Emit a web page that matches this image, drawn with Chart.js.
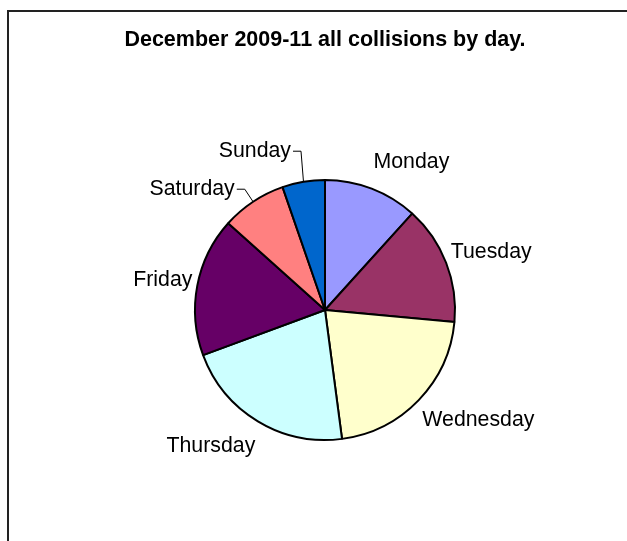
<!DOCTYPE html>
<html>
<head>
<meta charset="utf-8">
<script src="https://cdn.jsdelivr.net/npm/chart.js@4.4.1/dist/chart.umd.min.js"></script>
<style>
  body { margin: 0; background: #fff; overflow: hidden; }
  #wrap { position: relative; width: 627px; height: 541px; }
  #frame { position: absolute; left: 7px; top: 10px; width: 700px; height: 700px;
           border: 2px solid #222; box-sizing: border-box; pointer-events: none; }
  canvas { position: absolute; left: 0; top: 0; }
</style>
</head>
<body>
<div id="wrap">
  <canvas id="pieChart" width="627" height="541"></canvas>
  <div id="frame"></div>
</div>
<script>
// data (slice sizes)
const days = ['Monday', 'Tuesday', 'Wednesday', 'Thursday', 'Friday', 'Saturday', 'Sunday'];
const collisions = [42, 53, 77, 77, 62, 29, 19];
const sliceColors = ['#9999FF', '#993366', '#FFFFCC', '#CCFFFF', '#660066', '#FF8080', '#0066CC'];
const chartTitle = 'December 2009-11 all collisions by day.';

const FONT = '"Liberation Sans", Arial, Helvetica, sans-serif';

// title + outside labels (Excel style, leader lines on the small slices)
const pieLabels = {
  id: 'pieLabels',
  afterDraw(chart) {
    const ctx = chart.ctx;
    const meta = chart.getDatasetMeta(0);
    const total = collisions.reduce((a, b) => a + b, 0);
    ctx.save();
    ctx.fillStyle = '#000';
    ctx.strokeStyle = '#000';
    ctx.lineWidth = 1;

    const c = meta.data[0].getProps(['x', 'y'], true);
    ctx.font = 'bold 21.5px ' + FONT;
    ctx.textAlign = 'center';
    ctx.textBaseline = 'middle';
    ctx.fillText(chartTitle, c.x, 40);

    ctx.font = '21.3px ' + FONT;
    const placed = [];
    meta.data.forEach((arc, i) => {
      const p = arc.getProps(['x', 'y', 'startAngle', 'endAngle', 'outerRadius'], true);
      const mid = (p.startAngle + p.endAngle) / 2;
      const cos = Math.cos(mid), sin = Math.sin(mid);
      const R = p.outerRadius;
      const right = cos >= 0;
      ctx.textAlign = right ? 'left' : 'right';
      if (collisions[i] / total < 0.1) {
        // small slice: elbow leader, pushed clear of the previous small label
        const ex = p.x + (R + 15) * cos;
        let ey = p.y + (R + 15) * sin;
        placed.forEach(q => {
          if (q.right === right && Math.abs(q.y - ey) < 38) ey = sin < 0 ? q.y - 38 : q.y + 38;
        });
        placed.push({ y: ey, right });
        const hx = ex + (right ? 8 : -8);
        ctx.beginPath();
        ctx.moveTo(p.x + R * cos, p.y + R * sin);
        ctx.lineTo(ex, ey);
        ctx.lineTo(hx, ey);
        ctx.stroke();
        ctx.fillText(days[i], hx + (right ? 2 : -2), ey);
      } else {
        const ax = p.x + (R + 5) * cos, ay = p.y + (R + 5) * sin;
        ctx.fillText(days[i], ax, ay + sin * 24);
      }
    });
    ctx.restore();
  }
};

const ctx = document.getElementById('pieChart');
new Chart(ctx, {
  type: 'pie',
  data: {
    labels: days,
    datasets: [{
      data: collisions,
      backgroundColor: sliceColors,
      borderColor: '#000',
      borderWidth: 2,
      radius: 130
    }]
  },
  options: {
    responsive: false,
    animation: false,
    layout: { padding: { left: 195, right: 172, top: 180, bottom: 101 } },
    plugins: {
      legend: { display: false },
      tooltip: { enabled: false }
    }
  },
  plugins: [pieLabels]
});
</script>
</body>
</html>
